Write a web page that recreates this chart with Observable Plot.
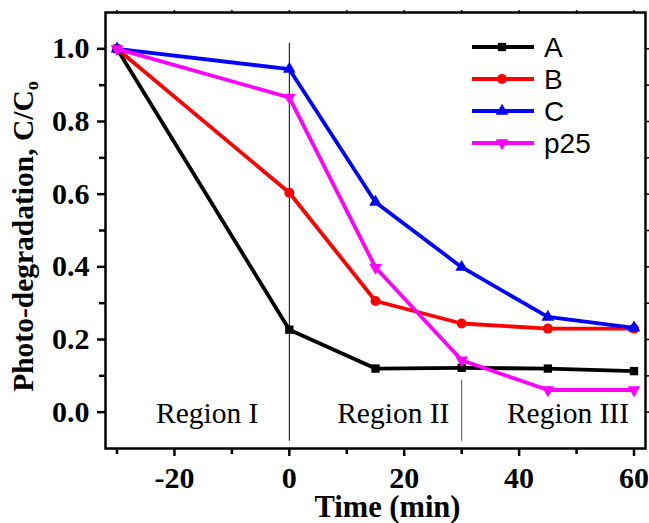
<!DOCTYPE html>
<html>
<head>
<meta charset="utf-8">
<script src="https://cdn.jsdelivr.net/npm/d3@7"></script>
<script src="https://cdn.jsdelivr.net/npm/@observablehq/plot@0.6"></script>
<style>
  html, body { margin: 0; padding: 0; background: #fff; }
  #wrap { position: relative; width: 649px; height: 523px; }
  #legend { position: absolute; left: 460px; top: 30px; }
</style>
</head>
<body>
<div id="wrap"></div>
<script>
// ---- data ----
const times = [-30, 0, 15, 30, 45, 60];
const seriesNames = ["A", "B", "C", "p25"];
const valuesA = [1.0, 0.227, 0.120, 0.122, 0.120, 0.113];
const valuesB = [1.0, 0.604, 0.306, 0.244, 0.230, 0.230];
const valuesC = [1.0, 0.944, 0.578, 0.399, 0.262, 0.232];
const valuesP25 = [1.0, 0.866, 0.398, 0.143, 0.061, 0.061];
const seriesColors = ["#000000", "#ff0000", "#0000ff", "#ff00ff"];
const seriesSymbols = ["square", "circle", "triangle", "triangle"];
const seriesRotate = [0, 0, 0, 180];
const xMajorTicks = [-20, 0, 20, 40, 60];
const xMinorTicks = [-30, -10, 10, 30, 50];
const yMajorTicks = [0.0, 0.2, 0.4, 0.6, 0.8, 1.0];
const yMinorTicks = [0.1, 0.3, 0.5, 0.7, 0.9];
const regionNames = ["Region I", "Region II", "Region III"];
const regionX = [-14.3, 18.1, 48.5];
const regionY = -0.03;
const dividerX = [0, 30];
const dividerTop = [1.015, 0.088];
const xLabel = "Time (min)";
const yLabel = "Photo-degradation, C/C";
const yLabelSub = "o";

const allSeries = [valuesA, valuesB, valuesC, valuesP25];
const rows = [];
seriesNames.forEach((name, i) => {
  times.forEach((t, j) => rows.push({series: name, i, t, v: allSeries[i][j]}));
});

const serif = "'Liberation Serif', 'Times New Roman', serif";
const sans = "'Liberation Sans', Arial, sans-serif";

const seriesMarks = [];
seriesNames.forEach((name, i) => {
  const d = rows.filter(r => r.series === name);
  seriesMarks.push(Plot.line(d, {x: "t", y: "v", stroke: seriesColors[i], strokeWidth: 3.8}));
  seriesMarks.push(Plot.dot(d, {x: "t", y: "v", fill: seriesColors[i], stroke: "none",
    symbol: () => seriesSymbols[i], r: i === 1 ? 5 : 4.7, rotate: seriesRotate[i]}));
});

const dividers = dividerX.map((x, i) => ({x, y1: -0.08, y2: dividerTop[i]}));

const chart = Plot.plot({
  width: 649, height: 523,
  marginLeft: 105, marginRight: 4, marginTop: 12, marginBottom: 75,
  style: {color: "black", background: "white", fontFamily: serif},
  x: {domain: [-32, 62]},
  y: {domain: [-0.1, 1.1]},
  marks: [
    Plot.ruleX(dividers, {x: "x", y1: "y1", y2: "y2", stroke: (d, i) => i === 0 ? "#000" : "#555", strokeWidth: 1}),
    ...seriesMarks,
    Plot.text(regionNames, {x: (d, i) => regionX[i], y: () => regionY, text: d => d,
      fontSize: 29.5, fontFamily: serif, lineAnchor: "bottom", fill: "black"}),
    Plot.axisX({ticks: xMajorTicks, tickSize: 8, tickPadding: 10, strokeWidth: 2.5,
      fontSize: 30, fontWeight: "bold", fontFamily: serif, label: null, tickFormat: d => String(d)}),
    Plot.axisX({ticks: xMinorTicks, tickSize: 6, strokeWidth: 2.5, label: null, tickFormat: () => ""}),
    Plot.axisX({anchor: "top", ticks: [...xMinorTicks, ...xMajorTicks], tickSize: 3, strokeWidth: 1.5, label: null, tickFormat: () => ""}),
    Plot.axisY({ticks: yMajorTicks, tickSize: 8, tickPadding: 8, strokeWidth: 2.5,
      fontSize: 30, fontWeight: "bold", fontFamily: serif, label: null, tickFormat: d3.format(".1f")}),
    Plot.axisY({ticks: yMinorTicks, tickSize: 6, strokeWidth: 2.5, label: null, tickFormat: () => ""}),
    Plot.axisY({anchor: "right", ticks: [...yMajorTicks, ...yMinorTicks], tickSize: 4, strokeWidth: 1.5, label: null, tickFormat: () => ""}),
    Plot.frame({stroke: "black", strokeWidth: 2.5}),
    Plot.text([xLabel], {frameAnchor: "bottom", text: d => d, dx: 12, dy: 47, lineAnchor: "top", textAnchor: "middle",
      fontSize: 30.5, fontWeight: "bold", fontFamily: serif, fill: "black"}),
    Plot.text([yLabel], {frameAnchor: "left", text: d => d, dx: -82, dy: 6, rotate: -90, textAnchor: "middle", lineAnchor: "middle",
      fontSize: 29.5, fontWeight: "bold", fontFamily: serif, fill: "black"})
  ]
});

const wrap = document.getElementById("wrap");
wrap.appendChild(chart);

// subscript on the y label
d3.select(chart).selectAll("text").filter(function() { return this.textContent === yLabel; })
  .each(function() {
    d3.select(this).append("tspan").attr("font-size", "0.62em").attr("dy", "0.3em").text(yLabelSub);
  });

// legend overlay
const legend = d3.select(wrap).append("svg").attr("id", "legend")
  .attr("width", 185).attr("height", 132);
const symMap = {square: d3.symbolSquare, circle: d3.symbolCircle, triangle: d3.symbolTriangle};
seriesNames.forEach((name, i) => {
  const y = 17 + i * 32;
  const g = legend.append("g");
  g.append("line").attr("x1", 12).attr("x2", 74).attr("y1", y).attr("y2", y)
    .attr("stroke", seriesColors[i]).attr("stroke-width", 3.8);
  const r = i === 1 ? 5 : 4.7;
  g.append("path").attr("d", d3.symbol(symMap[seriesSymbols[i]], Math.PI * r * r)())
    .attr("transform", `translate(42,${y}) rotate(${seriesRotate[i]})`)
    .attr("fill", seriesColors[i]);
  g.append("text").attr("x", 84).attr("y", y + 10).attr("font-family", sans)
    .attr("font-size", 28).attr("fill", "black").text(name);
});
</script>
</body>
</html>
